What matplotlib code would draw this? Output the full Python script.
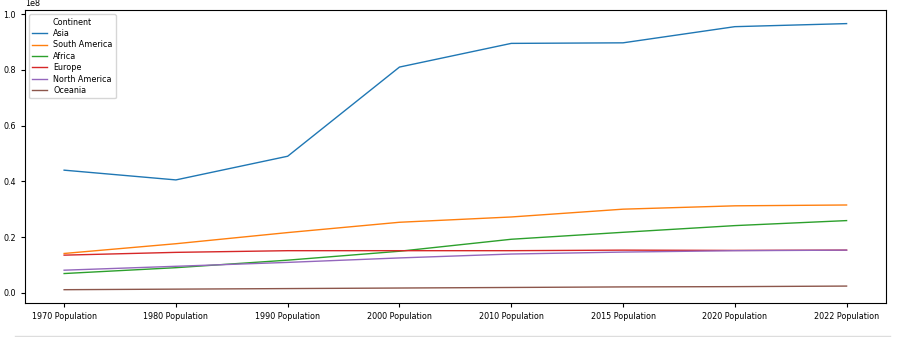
import matplotlib
matplotlib.use("Agg")
import matplotlib.pyplot as plt
from matplotlib.lines import Line2D

years = ["1970 Population", "1980 Population", "1990 Population", "2000 Population",
         "2010 Population", "2015 Population", "2020 Population", "2022 Population"]

# values in units of 1e8
asia = [0.440, 0.405, 0.490, 0.810, 0.895, 0.897, 0.955, 0.966]
south_america = [0.141, 0.176, 0.216, 0.253, 0.272, 0.300, 0.312, 0.315]
africa = [0.069, 0.090, 0.117, 0.149, 0.192, 0.217, 0.241, 0.259]
europe = [0.135, 0.145, 0.151, 0.151, 0.151, 0.153, 0.152, 0.153]
north_america = [0.081, 0.095, 0.109, 0.125, 0.139, 0.146, 0.151, 0.153]
oceania = [0.011, 0.013, 0.015, 0.017, 0.019, 0.021, 0.022, 0.024]

series = {
    "Asia": asia,
    "South America": south_america,
    "Africa": africa,
    "Europe": europe,
    "North America": north_america,
    "Oceania": oceania,
}

fs = 5.8
plt.rcParams["font.size"] = fs

fig = plt.figure(figsize=(9.01, 3.37), dpi=100)
ax = fig.add_axes([25 / 901, 1 - 303 / 337, (885.7 - 25) / 901, (303 - 10.3) / 337])

for name, vals in series.items():
    ax.plot(years, [v * 1e8 for v in vals], label=name, linewidth=1.0)

ax.tick_params(labelsize=fs, length=3)
ax.legend(title="Continent", loc="upper left", fontsize=fs, title_fontsize=fs,
          labelspacing=0.3, handlelength=1.8)

# thin separator line under the figure
fig.add_artist(Line2D([15 / 901, 890 / 901], [1.5 / 337, 1.5 / 337], color="#dddddd", linewidth=1))

fig.savefig("out.png", dpi=100)
